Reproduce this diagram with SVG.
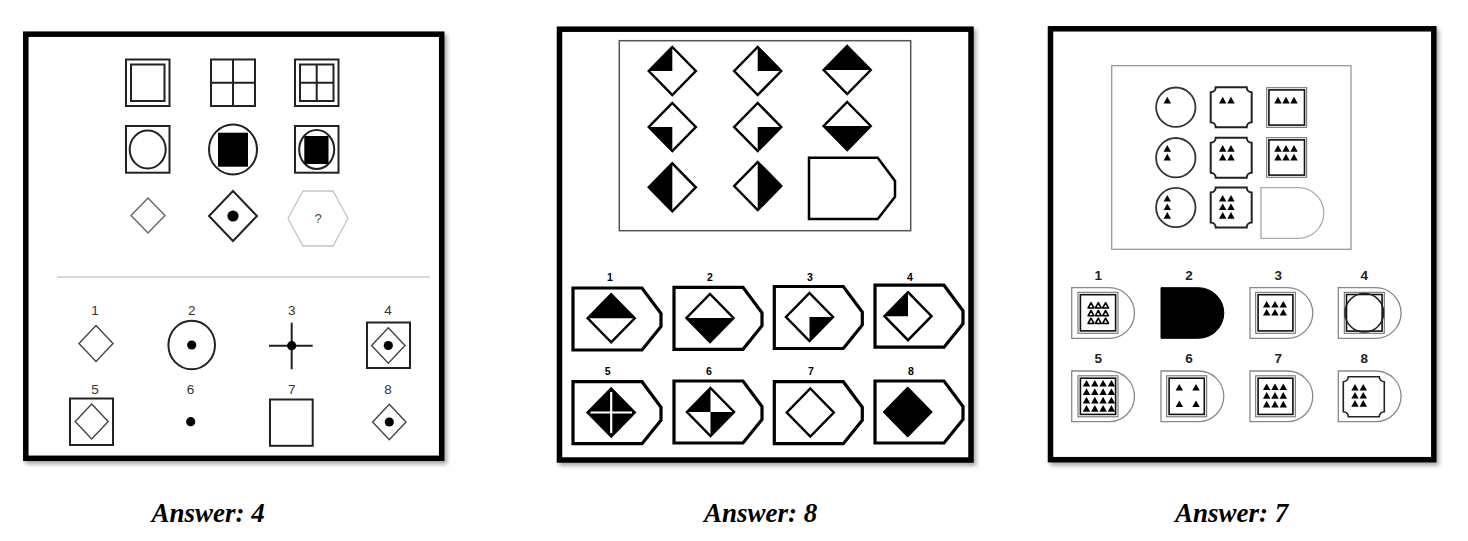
<svg xmlns="http://www.w3.org/2000/svg" width="1468" height="541" viewBox="0 0 1468 541">
<style>
.frame{fill:#fff;stroke:#000;stroke-width:5.5;filter:url(#sh)}
.k{fill:none;stroke:#222;stroke-width:2}
.k1{fill:none;stroke:#444;stroke-width:1.4}
.lite{fill:none;stroke:#666;stroke-width:1.4}
.fk{fill:#000;stroke:none}
.dot{fill:#000}
.dk{fill:none;stroke:#000;stroke-width:2.5;stroke-linejoin:miter}
.hs{fill:none;stroke:#000;stroke-width:2.5}
.ha{fill:none;stroke:#000;stroke-width:3.2}
.box{fill:none;stroke:#555;stroke-width:1.5}
.dsh{fill:#fff;stroke:#888;stroke-width:1.3}
.sqo{fill:none;stroke:#666;stroke-width:1}
.sqi{fill:none;stroke:#111;stroke-width:1.6}
.oct{fill:none;stroke:#222;stroke-width:2}
.tr{fill:#000}
.tro{fill:#fff;stroke:#000;stroke-width:1.6;stroke-linejoin:round}
.l1{font-family:'Liberation Sans',Arial,sans-serif;font-size:13.5px;fill:#333;text-anchor:middle}
.l2{font-family:'Liberation Sans',Arial,sans-serif;font-size:10.5px;font-weight:bold;fill:#000;text-anchor:middle}
.l3{font-family:'Liberation Sans',Arial,sans-serif;font-size:13.5px;font-weight:bold;fill:#222;text-anchor:middle}
.ans{font-family:'Liberation Serif','Times New Roman',serif;font-size:27px;font-weight:bold;font-style:italic;fill:#000}
</style>
<defs>
<filter id="sh" x="-5%" y="-5%" width="112%" height="112%">
<feDropShadow dx="2.5" dy="3" stdDeviation="2" flood-color="#000" flood-opacity="0.35"/>
</filter>
<path id="dia" d="M0,-24 L23.5,0 L0,24 L-23.5,0 Z"/>
<path id="qTL" d="M0,-24 L0,0 L-23.5,0 Z"/>
<path id="qTR" d="M0,-24 L23.5,0 L0,0 Z"/>
<path id="qBL" d="M-23.5,0 L0,0 L0,24 Z"/>
<path id="qBR" d="M23.5,0 L0,24 L0,0 Z"/>
<path id="hT" d="M0,-24 L23.5,0 L-23.5,0 Z"/>
<path id="hB" d="M-23.5,0 L23.5,0 L0,24 Z"/>
<path id="hL" d="M0,-24 L0,24 L-23.5,0 Z"/>
<path id="hR" d="M0,-24 L23.5,0 L0,24 Z"/>
<path id="house" d="M0,0 H69 L88,25.5 V38.5 L69,62 H0 Z"/>
<path id="dshape" d="M0,0 H37.5 A25.3 25.3 0 0 1 37.5,50.6 H0 Z"/>
<path id="oct" d="M-15.5,-20 H15.5 A5 5 0 0 0 20.5,-15 V15 A5 5 0 0 0 15.5,20 H-15.5 A5 5 0 0 0 -20.5,15 V-15 A5 5 0 0 0 -15.5,-20 Z"/>
<path id="tri" d="M0,-3.6 L3.7,3.1 L-3.7,3.1 Z"/>
<path id="trs" d="M0,-2.8 L2.9,2.5 L-2.9,2.5 Z"/>
</defs>
<rect width="1468" height="541" fill="#fff"/>

<!-- ===== Panel 1 ===== -->
<g id="panel1">
<rect class="frame" x="25.8" y="34.2" width="415.9" height="424.1"/>
<g id="p1-r1c1"><rect class="k" x="126" y="59.5" width="43.5" height="46.5"/><rect class="k" x="131" y="64.5" width="33.5" height="36.5"/></g>
<g id="p1-r1c2"><rect class="k" x="211" y="59.5" width="44" height="46.5"/><path class="k" d="M233,59.5 V106 M211,82.7 H255"/></g>
<g id="p1-r1c3"><rect class="k" x="295" y="59.5" width="43.5" height="46.5"/><rect class="k" x="300" y="64.5" width="33.5" height="36.5"/><path class="k" d="M316.7,64.5 V101 M300,82.7 H333.5"/></g>
<g id="p1-r2c1"><rect class="k" x="126" y="126" width="43.5" height="46.7"/><ellipse class="k" cx="147.7" cy="149.5" rx="18" ry="19"/></g>
<g id="p1-r2c2"><ellipse class="k" cx="233" cy="149.5" rx="24" ry="25"/><rect class="fk" x="218" y="132.7" width="30" height="34"/></g>
<g id="p1-r2c3"><rect class="k" x="295" y="126" width="43.5" height="46.7"/><ellipse class="k" cx="316.7" cy="149.5" rx="17.5" ry="19.5"/><rect class="fk" x="304.3" y="136" width="24.2" height="28"/></g>
<g id="p1-r3c1"><path class="lite" d="M148,198 L165,215.5 L148,233 L131,215.5 Z"/></g>
<g id="p1-r3c2"><path class="k" d="M233,191 L257,216 L233,241 L209,216 Z"/><circle class="dot" cx="233" cy="216" r="5.6"/></g>
<g id="p1-r3c3"><path fill="none" stroke="#c4c4c4" stroke-width="1.3" d="M288,218.5 L303,191 L333,191 L348,218.5 L333,246 L303,246 Z"/><text x="318" y="223" class="l1" style="font-size:13px;fill:#444">?</text></g>
<line x1="57" y1="277" x2="430" y2="277" stroke="#ccc" stroke-width="1.5"/>
<g id="p1-a1"><text class="l1" x="95" y="315">1</text><path class="k1" d="M96,325.5 L113,343.5 L96,361.5 L79,343.5 Z"/></g>
<g id="p1-a2"><text class="l1" x="191.7" y="315">2</text><ellipse class="k" cx="191.7" cy="345" rx="23.3" ry="24.3"/><circle class="dot" cx="191.7" cy="345" r="4.6"/></g>
<g id="p1-a3"><text class="l1" x="291.7" y="315">3</text><path class="k" d="M291.7,322.7 V369.3 M269,345.7 H312.7"/><circle class="dot" cx="291.7" cy="345.7" r="4.6"/></g>
<g id="p1-a4"><text class="l1" x="388" y="315">4</text><rect class="k" x="367" y="322.5" width="43" height="45.5"/><path class="k1" d="M388.3,327.7 L405,345.5 L388.3,363.3 L371.6,345.5 Z"/><circle class="dot" cx="388.3" cy="345.5" r="4.6"/></g>
<g id="p1-a5"><text class="l1" x="95" y="394">5</text><rect class="k" x="70" y="398.5" width="43" height="46.5"/><path class="k1" d="M91.7,404 L108.2,421.5 L91.7,439 L75.2,421.5 Z"/></g>
<g id="p1-a6"><text class="l1" x="190.5" y="394">6</text><circle class="dot" cx="190.7" cy="421.7" r="4.6"/></g>
<g id="p1-a7"><text class="l1" x="291.7" y="394">7</text><rect class="k" x="270" y="399.5" width="42.7" height="46.3"/></g>
<g id="p1-a8"><text class="l1" x="388" y="394">8</text><path class="k1" d="M389.3,404.2 L406,422 L389.3,439.8 L372.6,422 Z"/><circle class="dot" cx="389.3" cy="422" r="4.6"/></g>
</g>

<!-- ===== Panel 2 ===== -->
<g id="panel2">
<rect class="frame" x="559.5" y="29.2" width="411.5" height="430.8"/>
<rect class="box" x="619.3" y="40.7" width="291.4" height="190"/>
<g id="p2-r1c1"><use href="#qTL" x="672.3" y="71" class="fk"/><use href="#dia" x="672.3" y="71" class="dk"/></g>
<g id="p2-r1c2"><use href="#qTR" x="757.7" y="71" class="fk"/><use href="#dia" x="757.7" y="71" class="dk"/></g>
<g id="p2-r1c3"><use href="#hT" x="847.2" y="70" class="fk"/><use href="#dia" x="847.2" y="70" class="dk"/></g>
<g id="p2-r2c1"><use href="#qBL" x="672.3" y="127" class="fk"/><use href="#dia" x="672.3" y="127" class="dk"/></g>
<g id="p2-r2c2"><use href="#qBR" x="757.7" y="127" class="fk"/><use href="#dia" x="757.7" y="127" class="dk"/></g>
<g id="p2-r2c3"><use href="#hB" x="847.2" y="126" class="fk"/><use href="#dia" x="847.2" y="126" class="dk"/></g>
<g id="p2-r3c1"><use href="#hL" x="672.3" y="187.3" class="fk"/><use href="#dia" x="672.3" y="187.3" class="dk"/></g>
<g id="p2-r3c2"><use href="#hR" x="757.7" y="186" class="fk"/><use href="#dia" x="757.7" y="186" class="dk"/></g>
<g id="p2-r3c3"><path class="hs" d="M809,157.7 H877.7 L895,181 V196.7 L877.7,219 H809 Z"/></g>

<g id="p2-a1"><text class="l2" x="610" y="281">1</text><use href="#house" x="573" y="288" class="ha"/><use href="#hT" x="611.2" y="318.3" class="fk"/><use href="#dia" x="611.2" y="318.3" class="dk"/></g>
<g id="p2-a2"><text class="l2" x="710" y="281">2</text><use href="#house" x="674" y="287.3" class="ha"/><use href="#hB" x="710" y="318" class="fk"/><use href="#dia" x="710" y="318" class="dk"/></g>
<g id="p2-a3"><text class="l2" x="810" y="281">3</text><use href="#house" x="774.3" y="286.5" class="ha"/><use href="#qBR" x="809.5" y="317" class="fk"/><use href="#dia" x="809.5" y="317" class="dk"/></g>
<g id="p2-a4"><text class="l2" x="910" y="281">4</text><use href="#house" x="875" y="285.2" class="ha"/><use href="#qTL" x="908" y="316.2" class="fk"/><use href="#dia" x="908" y="316.2" class="dk"/></g>
<g id="p2-a5"><text class="l2" x="607.7" y="375">5</text><use href="#house" x="573" y="381.7" class="ha"/><use href="#dia" x="611.2" y="412.5" class="fk"/><use href="#dia" x="611.2" y="412.5" class="dk"/><path d="M611.2,392 V433 M590.5,412.5 H632" stroke="#fff" stroke-width="2.2" fill="none"/></g>
<g id="p2-a6"><text class="l2" x="709" y="375">6</text><use href="#house" x="674" y="381" class="ha"/><use href="#qTL" x="710.5" y="412" class="fk"/><use href="#qBR" x="710.5" y="412" class="fk"/><use href="#dia" x="710.5" y="412" class="dk"/></g>
<g id="p2-a7"><text class="l2" x="811" y="375">7</text><use href="#house" x="774.3" y="381.7" class="ha"/><use href="#dia" x="810.3" y="412.5" class="dk"/></g>
<g id="p2-a8"><text class="l2" x="911" y="375">8</text><use href="#house" x="875" y="381" class="ha"/><use href="#dia" x="907.7" y="412" class="fk"/><use href="#dia" x="907.7" y="412" class="dk" style="stroke-linejoin:round"/></g>
</g>

<!-- ===== Panel 3 ===== -->
<g id="panel3">
<rect class="frame" x="1050.5" y="28.8" width="383.3" height="430.9"/>
<rect fill="none" stroke="#999" stroke-width="1.3" x="1111.7" y="65.7" width="239.3" height="183.6"/>
<g id="p3-r1c1"><circle class="k" cx="1175.8" cy="107.2" r="19.7" style="stroke:#333;stroke-width:1.8"/><use href="#tri" x="1167.3" y="100.3" class="tr"/></g>
<g id="p3-r2c1"><circle class="k" cx="1175.8" cy="157.7" r="19.7" style="stroke:#333;stroke-width:1.8"/><use href="#tri" x="1167.3" y="148.6" class="tr"/><use href="#tri" x="1167.3" y="157.3" class="tr"/></g>
<g id="p3-r3c1"><circle class="k" cx="1175.8" cy="207.5" r="19.7" style="stroke:#333;stroke-width:1.8"/><use href="#tri" x="1167.3" y="198.5" class="tr"/><use href="#tri" x="1167.3" y="207" class="tr"/><use href="#tri" x="1167.3" y="215.6" class="tr"/></g>
<g id="p3-r1c2"><use href="#oct" x="1231.2" y="107.3" class="oct"/><use href="#tri" x="1222.7" y="100.3" class="tr"/><use href="#tri" x="1231" y="100.3" class="tr"/></g>
<g id="p3-r2c2"><use href="#oct" x="1231.2" y="157.7" class="oct"/><use href="#tri" x="1222.7" y="148.6" class="tr"/><use href="#tri" x="1231" y="148.6" class="tr"/><use href="#tri" x="1222.7" y="157.3" class="tr"/><use href="#tri" x="1231" y="157.3" class="tr"/></g>
<g id="p3-r3c2"><use href="#oct" x="1231.2" y="207.5" class="oct"/><use href="#tri" x="1222.7" y="198.5" class="tr"/><use href="#tri" x="1231" y="198.5" class="tr"/><use href="#tri" x="1222.7" y="207" class="tr"/><use href="#tri" x="1231" y="207" class="tr"/><use href="#tri" x="1222.7" y="215.6" class="tr"/><use href="#tri" x="1231" y="215.6" class="tr"/></g>
<g id="p3-r1c3"><rect class="sqo" x="1266.7" y="87.7" width="40" height="39.6"/><rect class="sqi" x="1268.9" y="89.9" width="35.6" height="35.2"/><use href="#tri" x="1278" y="100.3" class="tr"/><use href="#tri" x="1286" y="100.3" class="tr"/><use href="#tri" x="1294" y="100.3" class="tr"/></g>
<g id="p3-r2c3"><rect class="sqo" x="1266.7" y="137.7" width="40" height="39.6"/><rect class="sqi" x="1268.9" y="139.9" width="35.6" height="35.2"/><use href="#tri" x="1278" y="148.6" class="tr"/><use href="#tri" x="1286" y="148.6" class="tr"/><use href="#tri" x="1294" y="148.6" class="tr"/><use href="#tri" x="1278" y="157.3" class="tr"/><use href="#tri" x="1286" y="157.3" class="tr"/><use href="#tri" x="1294" y="157.3" class="tr"/></g>
<g id="p3-r3c3"><use href="#dshape" x="1261" y="187.7" class="dsh" style="stroke:#aaa"/></g>

<g id="p3-a1"><text class="l3" x="1098.3" y="279.5">1</text><use href="#dshape" x="1071.7" y="287.7" class="dsh"/><rect class="sqo" x="1078" y="292.3" width="40" height="41"/><rect class="sqi" x="1080.4" y="294.7" width="35.2" height="36.2"/>
<use href="#trs" x="1091" y="305.5" class="tro"/><use href="#trs" x="1098.3" y="305.5" class="tro"/><use href="#trs" x="1105.6" y="305.5" class="tro"/>
<use href="#trs" x="1091" y="313.3" class="tro"/><use href="#trs" x="1098.3" y="313.3" class="tro"/><use href="#trs" x="1105.6" y="313.3" class="tro"/>
<use href="#trs" x="1091" y="321" class="tro"/><use href="#trs" x="1098.3" y="321" class="tro"/><use href="#trs" x="1105.6" y="321" class="tro"/></g>
<g id="p3-a2"><text class="l3" x="1189" y="279.5">2</text><use href="#dshape" x="1161" y="287.7" fill="#000" stroke="#000" stroke-width="1"/></g>
<g id="p3-a3"><text class="l3" x="1278.3" y="279.5">3</text><use href="#dshape" x="1250" y="287.7" class="dsh"/><rect class="sqo" x="1255.7" y="292.3" width="39.6" height="41"/><rect class="sqi" x="1258.1" y="294.7" width="34.8" height="36.2"/>
<use href="#tri" x="1266.7" y="304.5" class="tr"/><use href="#tri" x="1275" y="304.5" class="tr"/><use href="#tri" x="1283.3" y="304.5" class="tr"/>
<use href="#tri" x="1266.7" y="312.5" class="tr"/><use href="#tri" x="1275" y="312.5" class="tr"/><use href="#tri" x="1283.3" y="312.5" class="tr"/></g>
<g id="p3-a4"><text class="l3" x="1364.3" y="279.5">4</text><use href="#dshape" x="1338.3" y="287.7" class="dsh"/><rect class="sqo" x="1344.3" y="292.3" width="40" height="41"/><rect class="sqi" x="1346.5" y="294.5" width="35.6" height="36.6"/><circle cx="1364.3" cy="312.8" r="19.3" fill="none" stroke="#222" stroke-width="1.5"/></g>
<g id="p3-a5"><text class="l3" x="1098.3" y="363">5</text><use href="#dshape" x="1071.7" y="371" class="dsh"/><rect class="sqo" x="1078" y="375.8" width="40" height="41"/><rect class="sqi" x="1080.4" y="378.2" width="35.2" height="36.2"/>
<use href="#tri" x="1086.5" y="383.5" class="tr"/><use href="#tri" x="1094.8" y="383.5" class="tr"/><use href="#tri" x="1103.1" y="383.5" class="tr"/><use href="#tri" x="1111.4" y="383.5" class="tr"/>
<use href="#tri" x="1086.5" y="391.9" class="tr"/><use href="#tri" x="1094.8" y="391.9" class="tr"/><use href="#tri" x="1103.1" y="391.9" class="tr"/><use href="#tri" x="1111.4" y="391.9" class="tr"/>
<use href="#tri" x="1086.5" y="400.3" class="tr"/><use href="#tri" x="1094.8" y="400.3" class="tr"/><use href="#tri" x="1103.1" y="400.3" class="tr"/><use href="#tri" x="1111.4" y="400.3" class="tr"/>
<use href="#tri" x="1086.5" y="408.7" class="tr"/><use href="#tri" x="1094.8" y="408.7" class="tr"/><use href="#tri" x="1103.1" y="408.7" class="tr"/><use href="#tri" x="1111.4" y="408.7" class="tr"/></g>
<g id="p3-a6"><text class="l3" x="1189" y="363">6</text><use href="#dshape" x="1161" y="371" class="dsh"/><rect class="sqo" x="1166.7" y="375.8" width="40" height="41"/><rect class="sqi" x="1169.1" y="378.2" width="35.2" height="36.2"/>
<use href="#tri" x="1179.3" y="387.5" class="tr"/><use href="#tri" x="1196" y="387.5" class="tr"/><use href="#tri" x="1179.3" y="404" class="tr"/><use href="#tri" x="1196" y="404" class="tr"/></g>
<g id="p3-a7"><text class="l3" x="1278.3" y="363">7</text><use href="#dshape" x="1250" y="371" class="dsh"/><rect class="sqo" x="1255.7" y="375.8" width="39.6" height="41"/><rect class="sqi" x="1258.1" y="378.2" width="34.8" height="36.2"/>
<use href="#tri" x="1266.7" y="387" class="tr"/><use href="#tri" x="1275" y="387" class="tr"/><use href="#tri" x="1283.3" y="387" class="tr"/>
<use href="#tri" x="1266.7" y="395.7" class="tr"/><use href="#tri" x="1275" y="395.7" class="tr"/><use href="#tri" x="1283.3" y="395.7" class="tr"/>
<use href="#tri" x="1266.7" y="404.3" class="tr"/><use href="#tri" x="1275" y="404.3" class="tr"/><use href="#tri" x="1283.3" y="404.3" class="tr"/></g>
<g id="p3-a8"><text class="l3" x="1364.3" y="363">8</text><use href="#dshape" x="1338.3" y="371" class="dsh"/><use href="#oct" x="1363.8" y="396.7" class="oct" style="stroke-width:1.6"/>
<use href="#tri" x="1355" y="387.5" class="tr"/><use href="#tri" x="1363.3" y="387.5" class="tr"/>
<use href="#tri" x="1355" y="395.5" class="tr"/><use href="#tri" x="1363.3" y="395.5" class="tr"/>
<use href="#tri" x="1355" y="403.7" class="tr"/><use href="#tri" x="1363.3" y="403.7" class="tr"/></g>
</g>

<g id="answers">
<text class="ans" x="151.5" y="522">Answer: 4</text>
<text class="ans" x="704" y="522">Answer: 8</text>
<text class="ans" x="1175" y="522">Answer: 7</text>
</g>
</svg>
